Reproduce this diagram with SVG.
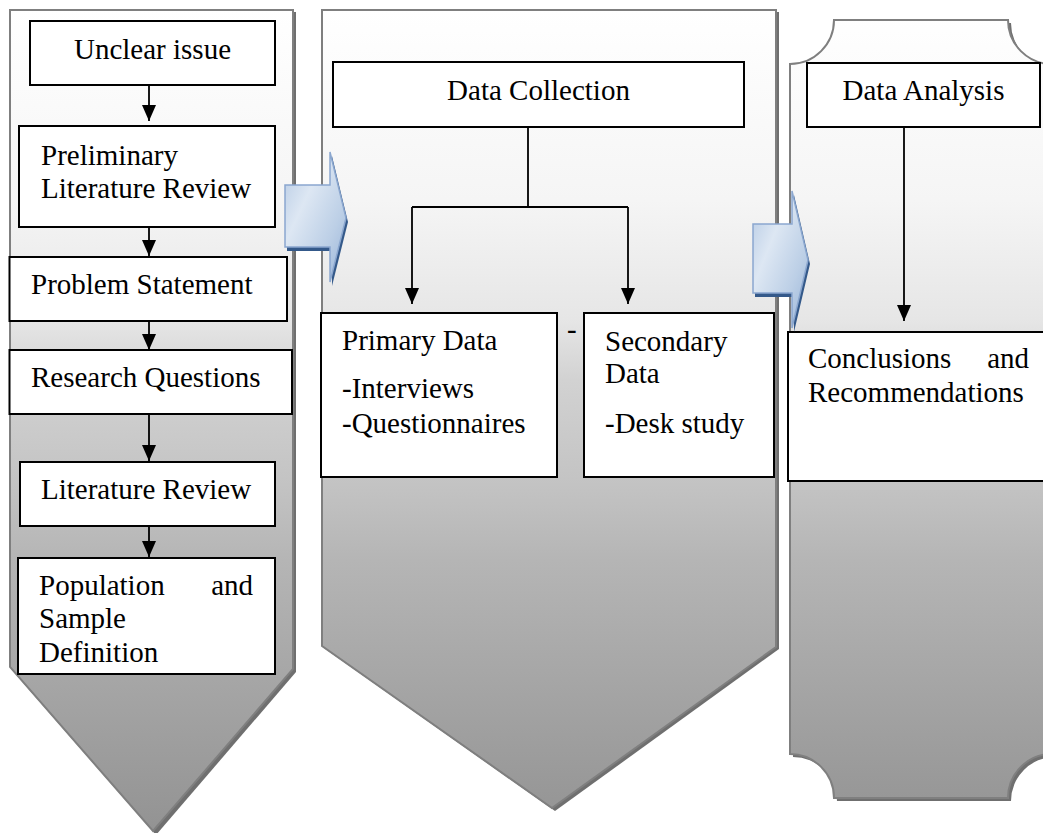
<svg xmlns="http://www.w3.org/2000/svg" width="1043" height="833" viewBox="0 0 1043 833">
<style>
.panel{fill:url(#gray);stroke:#7f7f7f;stroke-width:2}
.pshadow{fill:#6f6f6f}
.box{fill:#ffffff;stroke:#000000;stroke-width:2}
.t{font-family:"Liberation Serif","Times New Roman",serif;font-size:29px;fill:#000000}
.c{text-anchor:middle}
.e{text-anchor:end}
.conn{fill:none;stroke:#000000;stroke-width:1.8}
.barrow{fill:url(#blue);stroke:#8ba7cf;stroke-width:1.5}
.bshadow{fill:#34598a}
</style>
<defs>
<linearGradient id="gray" gradientUnits="userSpaceOnUse" x1="0" y1="10" x2="0" y2="830">
<stop offset="0" stop-color="#ffffff"/>
<stop offset="0.232" stop-color="#f5f5f5"/>
<stop offset="0.378" stop-color="#e6e6e6"/>
<stop offset="0.451" stop-color="#d2d2d2"/>
<stop offset="0.579" stop-color="#c3c3c3"/>
<stop offset="0.671" stop-color="#b5b5b5"/>
<stop offset="1" stop-color="#939393"/>
</linearGradient>
<linearGradient id="blue" x1="0" y1="0" x2="1" y2="1">
<stop offset="0" stop-color="#b3c8e3"/>
<stop offset="0.35" stop-color="#dde7f3"/>
<stop offset="0.7" stop-color="#bccfe6"/>
<stop offset="1" stop-color="#97b3d8"/>
</linearGradient>
<marker id="ah" markerUnits="userSpaceOnUse" viewBox="0 0 16 14" refX="16" refY="7" markerWidth="16" markerHeight="14" orient="auto">
<path d="M0,0 L16,7 L0,14 Z" fill="#000000"/>
</marker>
</defs>

<g id="panel-left">
<path class="pshadow" d="M12,12 H296 V672 L156,835 L12,670 Z"/>
<path class="panel" d="M10,10 H293 V669 L153,831 L10,667 Z"/>
</g>
<g id="panel-middle">
<path class="pshadow" d="M324,12 H779 V649 L555,811 L324,648 Z"/>
<path class="panel" d="M322,10 H776 V647 L552,808 L322,646 Z"/>
</g>
<g id="panel-right">
<path class="pshadow" d="M793,67 A44,44 0 0 0 837,23 H1011 A44,44 0 0 0 1055,67 V757 A44,44 0 0 0 1011,801 H837 A44,44 0 0 0 793,757 Z"/>
<path class="panel" d="M790,64 A44,44 0 0 0 834,20 H1008 A44,44 0 0 0 1052,64 V754 A44,44 0 0 0 1008,798 H834 A44,44 0 0 0 790,754 Z"/>
</g>

<g id="unclear-issue">
<rect class="box" x="30" y="21" width="245" height="64"/>
<text class="t c" x="152.5" y="59">Unclear issue</text>
</g>
<g id="preliminary-literature-review">
<rect class="box" x="19" y="126" width="256" height="101"/>
<text class="t" x="41" y="164.5">Preliminary</text>
<text class="t" x="41" y="197.5">Literature Review</text>
</g>
<g id="problem-statement">
<rect class="box" x="9.5" y="257" width="277.5" height="64"/>
<text class="t" x="31" y="294">Problem Statement</text>
</g>
<g id="research-questions">
<rect class="box" x="9.5" y="350" width="282.5" height="64"/>
<text class="t" x="31" y="387">Research Questions</text>
</g>
<g id="literature-review">
<rect class="box" x="20" y="462" width="255" height="64"/>
<text class="t" x="41" y="499">Literature Review</text>
</g>
<g id="population-sample">
<rect class="box" x="18" y="558" width="257" height="116"/>
<text class="t" x="39" y="595">Population</text>
<text class="t e" x="253" y="595">and</text>
<text class="t" x="39" y="628">Sample</text>
<text class="t" x="39" y="662">Definition</text>
</g>

<g id="data-collection">
<rect class="box" x="333" y="62" width="411" height="65"/>
<text class="t c" x="538.5" y="100">Data Collection</text>
</g>
<g id="primary-data">
<rect class="box" x="321" y="313" width="236" height="164"/>
<text class="t" x="342" y="350">Primary Data</text>
<text class="t" x="342" y="398">-Interviews</text>
<text class="t" x="342" y="433">-Questionnaires</text>
</g>
<text class="t" x="567" y="339">-</text>
<g id="secondary-data">
<rect class="box" x="584" y="313" width="190" height="164"/>
<text class="t" x="605" y="351">Secondary</text>
<text class="t" x="605" y="383">Data</text>
<text class="t" x="605" y="433">-Desk study</text>
</g>

<g id="data-analysis">
<rect class="box" x="807" y="63" width="233" height="64"/>
<text class="t c" x="923.5" y="100">Data Analysis</text>
</g>
<g id="conclusions">
<rect class="box" x="788" y="332" width="270" height="149"/>
<text class="t" x="808" y="368">Conclusions</text>
<text class="t e" x="1029" y="368">and</text>
<text class="t" x="808" y="402">Recommendations</text>
</g>

<g id="connectors">
<line class="conn" x1="149" y1="85" x2="149" y2="121" marker-end="url(#ah)"/>
<line class="conn" x1="149" y1="227" x2="149" y2="256" marker-end="url(#ah)"/>
<line class="conn" x1="149" y1="321" x2="149" y2="350" marker-end="url(#ah)"/>
<line class="conn" x1="149" y1="414" x2="149" y2="461" marker-end="url(#ah)"/>
<line class="conn" x1="149" y1="526" x2="149" y2="557" marker-end="url(#ah)"/>
<path class="conn" d="M528,127 V207 M412,207 H628"/>
<line class="conn" x1="412" y1="207" x2="412" y2="304" marker-end="url(#ah)"/>
<line class="conn" x1="628" y1="207" x2="628" y2="304" marker-end="url(#ah)"/>
<line class="conn" x1="904" y1="127" x2="904" y2="321" marker-end="url(#ah)"/>
</g>

<g id="block-arrow-1">
<path class="bshadow" d="M287,189 H332 V156 L348,222 L332,286 V251 H287 Z"/>
<path class="barrow" d="M285,185 H330 V152 L346,218 L330,282 V247 H285 Z"/>
</g>
<g id="block-arrow-2">
<path class="bshadow" d="M755,228 H794 V195 L810,264 L794,332 V297 H755 Z"/>
<path class="barrow" d="M753,224 H792 V191 L808,260 L792,328 V293 H753 Z"/>
</g>
</svg>
